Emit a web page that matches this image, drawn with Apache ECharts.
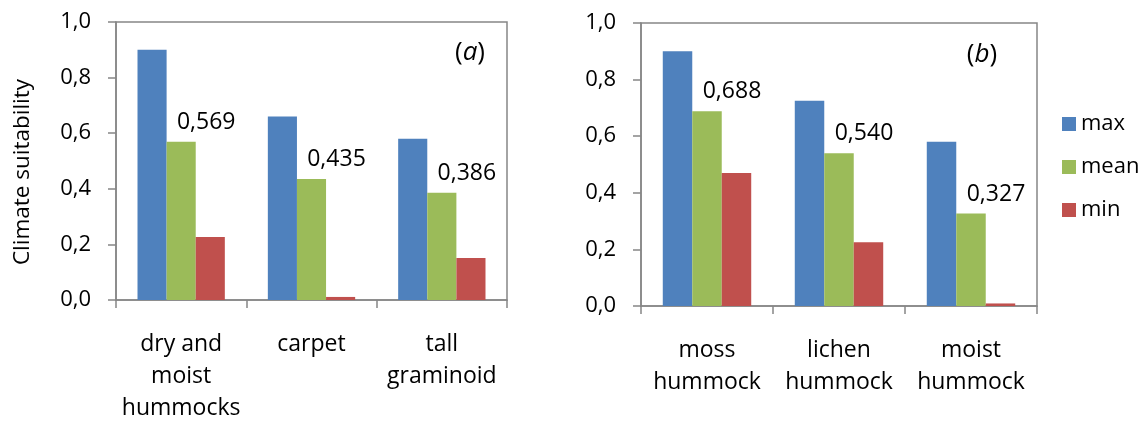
<!DOCTYPE html>
<html><head><meta charset="utf-8">
<script src="https://cdn.jsdelivr.net/npm/echarts@6/dist/echarts.min.js"></script>
<style>html,body{margin:0;padding:0;background:#fff}#c{width:1144px;height:421px}</style>
</head><body><div id="c"></div>
<script>
// ---- data ----
const categoriesA = ['dry and\nmoist\nhummocks', 'carpet', 'tall\ngraminoid'];
const categoriesB = ['moss\nhummock', 'lichen\nhummock', 'moist\nhummock'];
const maxA  = [0.90, 0.66, 0.58];
const meanA = [0.569, 0.435, 0.386];
const minA  = [0.227, 0.011, 0.151];
const maxB  = [0.90, 0.725, 0.58];
const meanB = [0.688, 0.540, 0.327];
const minB  = [0.470, 0.225, 0.009];
const seriesNames = ['max', 'mean', 'min'];
const yMin = 0, yMax = 1.0, yStep = 0.2;
const yTitle = 'Climate suitability';
const panelTags = ['a', 'b'];

// ---- styles ----
const FONT = 'Open Sans';
const colors = ['#4F81BD', '#9BBB59', '#C0504D'];
const axisGray = '#868686';
const comma = (v, d) => v.toFixed(d).replace('.', ',');

function xAxisFor(gi, cats) {
  return {
    type: 'category', gridIndex: gi, data: cats, boundaryGap: true,
    axisLine: { show: true, lineStyle: { color: axisGray, width: 1.5 } },
    axisTick: { show: true, length: 8, alignWithLabel: false, lineStyle: { color: axisGray, width: 1.5 } },
    axisLabel: { interval: 0, margin: 28, fontFamily: FONT, fontSize: 23, lineHeight: 32, color: '#000', hideOverlap: false },
    splitLine: { show: false }
  };
}
function yAxisFor(gi) {
  return {
    type: 'value', gridIndex: gi, min: yMin, max: yMax, interval: yStep,
    axisLine: { show: true, lineStyle: { color: axisGray, width: 1.5 } },
    axisTick: { show: true, length: 8, lineStyle: { color: axisGray, width: 1.5 } },
    axisLabel: { margin: 25, fontFamily: FONT, fontSize: 22, color: '#000', formatter: v => comma(v, 1) },
    splitLine: { show: false }
  };
}
function barSeries(gi, name, data, ci, withLabel) {
  return {
    type: 'bar', name: name, xAxisIndex: gi, yAxisIndex: gi, data: data,
    barGap: '0%', barCategoryGap: '33%',
    itemStyle: { color: colors[ci] },
    label: withLabel ? {
      show: true, position: 'top', distance: 5, offset: [25, -3],
      fontFamily: FONT, fontSize: 23, color: '#000', formatter: p => comma(p.value, 3)
    } : { show: false }
  };
}
function tag(letter, x, y) {
  return {
    type: 'text', x: x, y: y, silent: true,
    style: {
      text: '{p|(}{i|' + letter + '}{p|)}',
      align: 'center', verticalAlign: 'middle',
      rich: {
        p: { fontFamily: FONT, fontSize: 26, fill: '#000' },
        i: { fontFamily: FONT, fontSize: 26, fontStyle: 'italic', fill: '#000' }
      }
    }
  };
}

const chart = echarts.init(document.getElementById('c'), null, { renderer: 'canvas' });
chart.setOption({
  animation: false,
  backgroundColor: '#fff',
  grid: [
    { left: 116, top: 22, width: 391, height: 278, show: true, borderColor: axisGray, borderWidth: 1.5, backgroundColor: 'transparent', containLabel: false, outerBoundsMode: 'none' },
    { left: 641, top: 23, width: 396, height: 283, show: true, borderColor: axisGray, borderWidth: 1.5, backgroundColor: 'transparent', containLabel: false, outerBoundsMode: 'none' }
  ],
  xAxis: [xAxisFor(0, categoriesA), xAxisFor(1, categoriesB)],
  yAxis: [yAxisFor(0), yAxisFor(1)],
  legend: {
    data: seriesNames, orient: 'vertical', left: 1057, top: 108,
    itemWidth: 14, itemHeight: 14, itemGap: 21, icon: 'rect',
    textStyle: { fontFamily: FONT, fontSize: 22, color: '#000', lineHeight: 22 },
    selectedMode: false
  },
  graphic: [
    {
      type: 'text', x: 23, y: 172, rotation: Math.PI / 2, silent: true,
      style: { text: yTitle, fontFamily: FONT, fontSize: 22.5, fill: '#000', align: 'center', verticalAlign: 'middle' }
    },
    tag(panelTags[0], 470, 53),
    tag(panelTags[1], 982, 55)
  ],
  series: [
    barSeries(0, seriesNames[0], maxA, 0, false),
    barSeries(0, seriesNames[1], meanA, 1, true),
    barSeries(0, seriesNames[2], minA, 2, false),
    barSeries(1, seriesNames[0], maxB, 0, false),
    barSeries(1, seriesNames[1], meanB, 1, true),
    barSeries(1, seriesNames[2], minB, 2, false)
  ]
});
</script>
</body></html>
